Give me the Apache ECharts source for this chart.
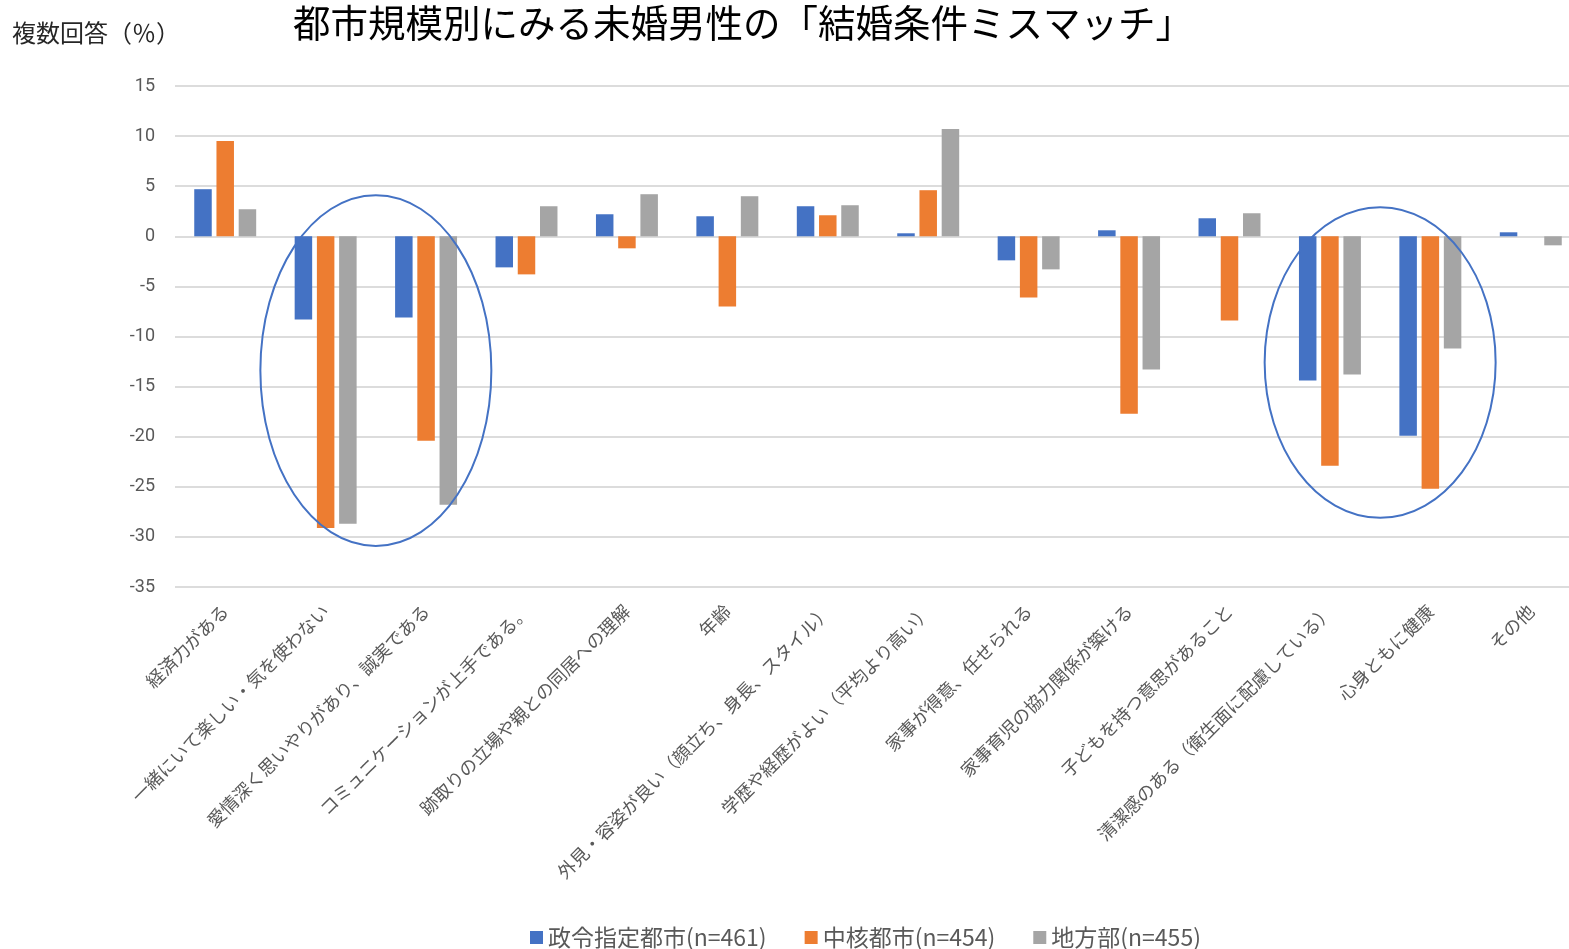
<!DOCTYPE html>
<html>
<head>
    <meta charset="UTF-8">
    <title>都市規模別にみる未婚男性の「結婚条件ミスマッチ」</title>
    <script src="https://cdn.jsdelivr.net/npm/echarts@6/dist/echarts.min.js"></script>
    <style>
        html, body {
            margin: 0;
            padding: 0;
            background: #ffffff;
        }

        #chartContainer {
            width: 1569px;
            height: 949px;
        }
    </style>
</head>
<body>
<div id="chartContainer"></div>
<script>
    // カテゴリ
    var categories = [
        '経済力がある',
        '一緒にいて楽しい・気を使わない',
        '愛情深く思いやりがあり、誠実である',
        'コミュニケーションが上手である。',
        '跡取りの立場や親との同居への理解',
        '年齢',
        '外見・容姿が良い（顔立ち、身長、スタイル）',
        '学歴や経歴がよい（平均より高い）',
        '家事が得意、任せられる',
        '家事育児の協力関係が築ける',
        '子どもを持つ意思があること',
        '清潔感のある（衛生面に配慮している）',
        '心身ともに健康',
        'その他'
    ];

    var seriesNames = ['政令指定都市(n=461)', '中核都市(n=454)', '地方部(n=455)'];

    // 値（%ポイント）
    var seireiValues = [4.7, -8.3, -8.1, -3.1, 2.2, 2.0, 3.0, 0.3, -2.4, 0.6, 1.8, -14.4, -19.9, 0.4];
    var chukakuValues = [9.5, -29.1, -20.4, -3.8, -1.2, -7.0, 2.1, 4.6, -6.1, -17.7, -8.4, -22.9, -25.2, 0];
    var chihoValues = [2.7, -28.7, -26.8, 3.0, 4.2, 4.0, 3.1, 10.7, -3.3, -13.3, 2.3, -13.8, -11.2, -0.9];

    var yTicks = [-35, -30, -25, -20, -15, -10, -5, 0, 5, 10, 15];

    // 強調の楕円：[カテゴリ開始, カテゴリ終了, 中心値, 縦半径(値)]
    var highlightGroups = [[1, 2, -13.4, 17.5], [11, 12, -12.6, 15.5]];

    var colors = ['#4472C4', '#ED7D31', '#A5A5A5'];
    var labelColor = '#595959';
    var jpFont = '"Noto Sans CJK JP", "Noto Sans", sans-serif';

    var myChart = echarts.init(document.getElementById('chartContainer'));

    function makeSeries(name, values, color) {
        return {
            name: name,
            type: 'bar',
            data: values,
            barWidth: 17.5,
            barGap: '27%',
            itemStyle: {
                color: color
            }
        };
    }

    var option = {
        animation: false,
        color: colors,
        graphic: [
            {
                type: 'text',
                left: 12,
                top: 21,
                style: {
                    text: '複数回答（％）',
                    fontSize: 24,
                    fontFamily: jpFont,
                    fill: '#262626'
                }
            },
            {
                type: 'text',
                left: 293,
                top: 4,
                style: {
                    text: '都市規模別にみる未婚男性の「結婚条件ミスマッチ」',
                    fontSize: 37.5,
                    fontFamily: jpFont,
                    fill: '#000000'
                }
            }
        ],
        legend: {
            left: 525,
            top: 921,
            itemWidth: 13,
            itemHeight: 13,
            itemGap: 38,
            icon: 'rect',
            textStyle: {
                fontSize: 23,
                fontFamily: jpFont,
                color: labelColor
            },
            data: seriesNames
        },
        grid: {
            left: 175,
            width: 1406,
            top: 86,
            bottom: 362,
            containLabel: false,
            outerBoundsMode: 'none'
        },
        xAxis: {
            type: 'category',
            data: categories,
            axisLine: { show: false, onZero: false },
            axisTick: { show: false },
            axisLabel: {
                rotate: 45,
                interval: 0,
                margin: 21,
                fontSize: 18,
                fontFamily: jpFont,
                color: labelColor
            }
        },
        yAxis: {
            type: 'value',
            min: yTicks[0],
            max: yTicks[yTicks.length - 1],
            interval: 5,
            axisLine: { show: false },
            axisTick: { show: false },
            axisLabel: {
                margin: 20,
                fontSize: 18,
                fontFamily: 'Roboto, "Noto Sans", sans-serif',
                color: labelColor
            },
            splitLine: {
                lineStyle: { color: '#dcdcdc', width: 2 }
            }
        },
        series: [
            makeSeries(seriesNames[0], seireiValues, colors[0]),
            makeSeries(seriesNames[1], chukakuValues, colors[1]),
            makeSeries(seriesNames[2], chihoValues, colors[2])
        ]
    };
    myChart.setOption(option);

    // 楕円をデータ座標から配置する
    function drawHighlights() {
        var finder = { xAxisIndex: 0, yAxisIndex: 0 };
        var band = myChart.convertToPixel(finder, [1, 0])[0] - myChart.convertToPixel(finder, [0, 0])[0];
        var unit = myChart.convertToPixel(finder, [0, 0])[1] - myChart.convertToPixel(finder, [0, 1])[1];
        var shapes = highlightGroups.map(function (g) {
            var a = myChart.convertToPixel(finder, [g[0], g[2]]);
            var b = myChart.convertToPixel(finder, [g[1], g[2]]);
            return {
                type: 'ellipse',
                shape: {
                    cx: (a[0] + b[0]) / 2,
                    cy: a[1],
                    rx: band * 1.15,
                    ry: unit * g[3]
                },
                style: {
                    fill: 'none',
                    stroke: '#4472C4',
                    lineWidth: 2
                },
                z: 100
            };
        });
        myChart.setOption({ graphic: option.graphic.concat(shapes) });
    }
    drawHighlights();
</script>
</body>
</html>
